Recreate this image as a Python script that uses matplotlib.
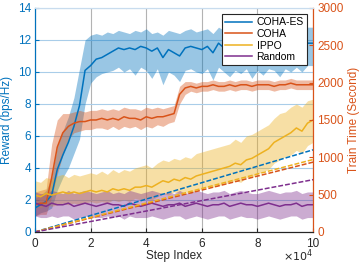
import matplotlib
matplotlib.use("Agg")
import matplotlib.pyplot as plt
import numpy as np
from matplotlib.ticker import FuncFormatter

plt.rcParams['font.family'] = ['Liberation Sans', 'DejaVu Sans']

# step index, 0 .. 1e5 in steps of 2000
steps = np.linspace(0, 100000, 51)

coha_es_mean = [1.5, 1.7, 1.9, 2.3, 3.9, 4.8, 5.6, 6.6, 7.9, 10.1, 10.4, 10.8, 10.9, 11.1, 11.3, 11.5, 11.4,
                11.5, 11.4, 11.6, 11.5, 11.3, 11.5, 10.9, 11.4, 11.2, 11.0, 11.5, 11.6, 11.5, 11.4, 11.6, 11.2,
                11.8, 11.5, 11.3, 11.5, 11.4, 11.6, 11.4, 11.5, 11.3, 11.6, 11.5, 11.4, 11.6, 11.5, 11.7, 11.5,
                11.8, 11.8]
coha_es_lo = [1.0, 1.2, 1.3, 1.5, 2.6, 3.4, 4.0, 4.9, 5.8, 8.0, 9.3, 9.7, 9.9, 10.0, 10.1, 10.3, 10.0, 10.2,
              9.8, 10.3, 10.1, 9.6, 10.2, 9.2, 10.0, 9.8, 9.4, 10.1, 10.2, 10.0, 9.9, 10.2, 9.5, 10.3, 10.0, 9.7,
              10.1, 9.9, 10.2, 9.6, 10.1, 9.8, 10.2, 10.1, 9.7, 10.2, 10.0, 10.3, 10.0, 10.4, 10.4]
coha_es_hi = [2.1, 2.3, 2.6, 3.4, 5.3, 6.3, 7.2, 8.4, 10.2, 12.0, 12.3, 12.4, 12.3, 12.5, 12.4, 12.6, 12.5,
              12.4, 12.6, 12.5, 12.7, 12.4, 12.5, 12.3, 12.6, 12.5, 12.4, 12.6, 12.7, 12.5, 12.6, 12.7, 12.4,
              12.8, 12.6, 12.5, 12.6, 12.5, 12.7, 12.6, 12.6, 12.5, 12.7, 12.6, 12.5, 12.7, 12.6, 12.8, 12.6,
              12.8, 12.8]

coha_mean = [1.7, 1.8, 1.8, 3.4, 5.3, 6.2, 6.6, 6.8, 6.9, 6.9, 7.0, 7.0, 7.1, 7.0, 7.1, 7.0, 7.2, 7.1, 7.1,
             7.0, 7.2, 7.1, 7.2, 7.2, 7.3, 7.4, 8.6, 9.0, 9.1, 9.0, 9.1, 9.1, 9.2, 9.1, 9.1, 9.2, 9.1, 9.2, 9.2,
             9.1, 9.2, 9.2, 9.2, 9.1, 9.2, 9.2, 9.3, 9.2, 9.2, 9.2, 9.2]
coha_lo = [1.0, 1.1, 1.1, 2.2, 3.6, 4.8, 5.8, 6.2, 6.3, 6.4, 6.4, 6.5, 6.5, 6.4, 6.6, 6.4, 6.6, 6.5, 6.6, 6.4,
           6.6, 6.5, 6.7, 6.6, 6.8, 6.9, 8.0, 8.6, 8.8, 8.7, 8.8, 8.8, 8.9, 8.8, 8.8, 8.9, 8.8, 8.9, 8.9, 8.8,
           8.9, 8.9, 8.9, 8.8, 8.9, 8.9, 9.0, 8.9, 8.9, 8.9, 8.9]
coha_hi = [2.5, 2.6, 2.7, 5.5, 7.0, 7.4, 7.4, 7.5, 7.6, 7.5, 7.6, 7.6, 7.7, 7.6, 7.7, 7.6, 7.8, 7.7, 7.7, 7.6,
           7.8, 7.7, 7.8, 7.7, 7.8, 7.9, 9.1, 9.4, 9.4, 9.3, 9.4, 9.4, 9.5, 9.4, 9.4, 9.5, 9.4, 9.5, 9.5, 9.4,
           9.5, 9.5, 9.5, 9.4, 9.5, 9.5, 9.6, 9.5, 9.5, 9.5, 9.5]

ippo_mean = [2.3, 2.2, 2.4, 2.3, 2.4, 2.5, 2.4, 2.5, 2.4, 2.5, 2.6, 2.5, 2.6, 2.5, 2.7, 2.6, 2.7, 2.6, 2.8,
             2.8, 2.9, 2.8, 3.0, 3.2, 3.1, 3.3, 3.2, 3.4, 3.3, 3.5, 3.6, 3.7, 3.8, 3.9, 4.0, 4.1, 4.3, 4.2, 4.5,
             4.6, 4.8, 5.0, 5.2, 5.6, 5.8, 6.0, 6.2, 6.5, 6.3, 6.8, 7.0]
ippo_lo = [1.6, 1.5, 1.7, 1.6, 1.7, 1.8, 1.7, 1.8, 1.7, 1.8, 1.9, 1.8, 1.9, 1.8, 2.0, 1.9, 2.0, 1.9, 2.1, 2.0,
           2.1, 2.0, 2.2, 2.4, 2.3, 2.5, 2.4, 2.5, 2.4, 2.6, 2.7, 2.8, 2.8, 2.9, 3.0, 3.1, 3.2, 3.1, 3.4, 3.4,
           3.6, 3.8, 3.9, 4.3, 4.5, 4.7, 4.8, 5.1, 4.9, 5.4, 5.6]
ippo_hi = [3.2, 3.1, 3.4, 3.3, 3.5, 3.6, 3.4, 3.6, 3.5, 3.6, 3.7, 3.6, 3.8, 3.6, 3.9, 3.7, 3.9, 3.8, 4.0, 4.1,
           4.2, 4.0, 4.3, 4.5, 4.4, 4.6, 4.5, 4.7, 4.6, 4.9, 5.0, 5.1, 5.2, 5.3, 5.4, 5.5, 5.8, 5.6, 6.0, 6.1,
           6.3, 6.5, 6.7, 7.1, 7.4, 7.5, 7.8, 8.0, 7.8, 8.2, 8.3]

random_mean = [1.8, 1.7, 1.6, 1.8, 1.7, 1.7, 1.8, 1.6, 1.7, 1.8, 1.7, 1.6, 1.7, 1.8, 1.7, 1.7, 1.6, 1.8, 1.7,
               1.6, 1.7, 1.8, 1.7, 1.6, 1.7, 1.7, 1.8, 1.6, 1.7, 1.8, 1.7, 1.6, 1.7, 1.7, 1.8, 1.6, 1.7, 1.8,
               1.7, 1.7, 1.6, 1.7, 1.8, 1.7, 1.6, 1.7, 1.7, 1.8, 1.6, 1.7, 1.7]
random_lo = [1.0, 0.9, 0.9, 1.0, 0.9, 1.0, 1.0, 0.8, 0.9, 1.0, 0.9, 0.9, 0.9, 1.0, 0.9, 1.0, 0.8, 1.0, 0.9,
             0.9, 0.9, 1.0, 0.9, 0.8, 0.9, 1.0, 1.0, 0.8, 0.9, 1.0, 0.9, 0.8, 0.9, 1.0, 1.0, 0.8, 0.9, 1.0,
             0.9, 0.9, 0.8, 0.9, 1.0, 0.9, 0.8, 0.9, 1.0, 1.0, 0.8, 0.9, 0.9]
random_hi = [2.5, 2.4, 2.4, 2.6, 2.5, 2.4, 2.6, 2.4, 2.5, 2.6, 2.5, 2.4, 2.5, 2.6, 2.4, 2.5, 2.4, 2.6, 2.5,
             2.4, 2.5, 2.6, 2.5, 2.4, 2.5, 2.4, 2.6, 2.4, 2.5, 2.6, 2.5, 2.4, 2.5, 2.5, 2.6, 2.4, 2.5, 2.6,
             2.5, 2.4, 2.4, 2.5, 2.6, 2.5, 2.4, 2.5, 2.5, 2.6, 2.4, 2.5, 2.5]

# train time (seconds) at start and end of training
time_steps = [0, 100000]
time_coha_es = [0, 1100]
time_coha = [0, 935]
time_ippo = [0, 970]
time_random = [0, 700]

names = ['COHA-ES', 'COHA', 'IPPO', 'Random']
colors = ['#0072BD', '#D95319', '#EDB120', '#7E2F8E']

fig = plt.figure(figsize=(3.59, 2.66), dpi=100)
ax1 = fig.add_axes([0.0975, 0.128, 0.7745, 0.842])
ax2 = ax1.twinx()

series = [(coha_es_mean, coha_es_lo, coha_es_hi), (coha_mean, coha_lo, coha_hi),
          (ippo_mean, ippo_lo, ippo_hi), (random_mean, random_lo, random_hi)]
handles = []
for (m, lo, hi), c, n in zip(series, colors, names):
    ax1.fill_between(steps, lo, hi, color=c, alpha=0.4, lw=0)
    h, = ax1.plot(steps, m, color=c, lw=1.1, label=n)
    handles.append(h)

for t, c in zip([time_coha_es, time_coha, time_ippo, time_random], colors):
    ax2.plot(time_steps, t, color=c, lw=1.1, ls=(0, (3.2, 1.3)))

ax1.set_xlim(0, 100000)
ax1.set_ylim(0, 14)
ax2.set_ylim(0, 3000)
ax1.set_xticks(np.arange(0, 100001, 20000))
ax1.set_yticks(np.arange(0, 15, 2))
ax2.set_yticks(np.arange(0, 3001, 500))

# tick labels in units of 1e4, multiplier written separately like MATLAB
ax1.xaxis.set_major_formatter(FuncFormatter(lambda v, p: '%g' % (v / 1e4)))
fig.text(313 / 359, 1 - 256 / 266, r'$\times10^4$', fontsize=8, color='#262626', ha='right', va='center')

ax1.grid(axis='x', color='#a0a0a0', lw=0.8, alpha=0.8)
ax1.grid(axis='y', color='#a9cde9', lw=0.8)
ax1.set_axisbelow(True)

ax1.tick_params(axis='x', direction='in', length=3, labelsize=8.5, colors='#262626', pad=4)
ax1.tick_params(axis='y', direction='in', length=3, labelsize=8.5, colors='#0072BD', pad=3)
ax2.tick_params(axis='y', direction='in', length=3, labelsize=8.5, colors='#D95319', pad=3)

for ax in (ax1, ax2):
    ax.spines['left'].set_color('#0072BD')
    ax.spines['right'].set_color('#D95319')
    ax.spines['bottom'].set_color('#262626')
    ax.spines['top'].set_color('#c8dcee')
    for s in ax.spines.values():
        s.set_linewidth(0.8)

ax1.set_xlabel('Step Index', fontsize=8.5, color='#262626', labelpad=0)
ax1.set_ylabel('Reward (bps/Hz)', fontsize=8.5, color='#0072BD', labelpad=3)
ax2.set_ylabel('Train Time (Second)', fontsize=8.5, color='#D95319', labelpad=3)

leg = ax2.legend(handles=handles, loc='upper right', bbox_to_anchor=(0.978, 0.972), fontsize=7.5,
                 fancybox=False, framealpha=1, edgecolor='#262626', handlelength=2.6,
                 borderpad=0.3, labelspacing=0.15, handletextpad=0.4, borderaxespad=0)
leg.get_frame().set_linewidth(0.8)

fig.savefig('out.png', dpi=100)
